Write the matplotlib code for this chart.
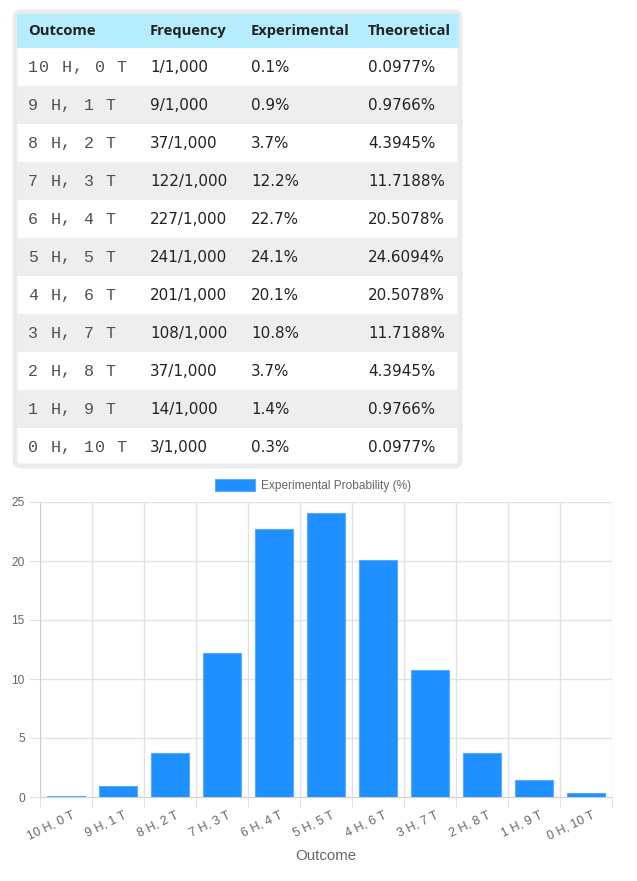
import matplotlib.pyplot as plt
from matplotlib.patches import FancyBboxPatch, Rectangle

# ── data ──────────────────────────────────────────────────────────────
outcomes = ["10 H, 0 T", "9 H, 1 T", "8 H, 2 T", "7 H, 3 T", "6 H, 4 T",
            "5 H, 5 T", "4 H, 6 T", "3 H, 7 T", "2 H, 8 T", "1 H, 9 T",
            "0 H, 10 T"]
frequencies = ["1/1,000", "9/1,000", "37/1,000", "122/1,000", "227/1,000",
               "241/1,000", "201/1,000", "108/1,000", "37/1,000", "14/1,000",
               "3/1,000"]
experimental = [0.1, 0.9, 3.7, 12.2, 22.7, 24.1, 20.1, 10.8, 3.7, 1.4, 0.3]
theoretical = ["0.0977%", "0.9766%", "4.3945%", "11.7188%", "20.5078%",
               "24.6094%", "20.5078%", "11.7188%", "4.3945%", "0.9766%",
               "0.0977%"]
headers = ["Outcome", "Frequency", "Experimental", "Theoretical"]

W, H = 637, 881
fig = plt.figure(figsize=(W / 100, H / 100), dpi=100)

# overlay in pixel coordinates for the table
ov = fig.add_axes([0, 0, 1, 1])
ov.set_xlim(0, W)
ov.set_ylim(H, 0)
ov.axis("off")

# outer container
ov.add_patch(FancyBboxPatch((15, 12), 445, 454,
                            boxstyle="round,pad=0,rounding_size=6",
                            facecolor="white", edgecolor="#ebebeb", lw=3.5))
# header
ov.add_patch(Rectangle((17, 14), 442, 34, facecolor="#b5edfc", lw=0))

col_x = [28, 150, 251, 368]
for x, h in zip(col_x, headers):
    ov.text(x, 31, h, fontsize=10.6, fontweight="bold", family="Open Sans",
            color="#222222", va="center", ha="left")

body = dict(fontsize=10.9, family="DejaVu Sans", color="#222222",
            va="center", ha="left")
row_h = 38
for i in range(len(outcomes)):
    top = 48 + i * row_h
    if i % 2 == 1:
        ov.add_patch(Rectangle((17, top), 442, row_h, facecolor="#eeeeee", lw=0))
    yc = top + row_h / 2
    # monospace outcome, drawn with a little letter spacing
    for k, ch in enumerate(outcomes[i]):
        ov.text(col_x[0] + k * 11.1, yc, ch, fontsize=12, family="Liberation Mono",
                color="#505050", va="center", ha="left")
    ov.text(col_x[1], yc, frequencies[i], **body)
    ov.text(col_x[2], yc, f"{experimental[i]}%", **body)
    ov.text(col_x[3], yc, theoretical[i], **body)

# ── bar chart ─────────────────────────────────────────────────────────
ax_l, ax_r, ax_t, ax_b = 40, 612, 502, 797
ax = fig.add_axes([ax_l / W, 1 - ax_b / H, (ax_r - ax_l) / W, (ax_b - ax_t) / H])
x = range(len(outcomes))
ax.bar(x, experimental, width=0.72, color="#1e90ff", edgecolor="#5aaaff",
       linewidth=0.8, zorder=3)
ax.set_xlim(-0.5, len(outcomes) - 0.5)
ax.set_ylim(0, 25)
ax.set_yticks([0, 5, 10, 15, 20, 25])

grid_c = "#e2e2e2"
for v in range(len(outcomes) + 1):
    ax.axvline(v - 0.5, color=grid_c, lw=1, zorder=1)
for v in [5, 10, 15, 20, 25]:
    ax.axhline(v, color=grid_c, lw=1, zorder=1)
for s in ["top", "right"]:
    ax.spines[s].set_visible(False)
ax.spines["left"].set_color("#d0d0d0")
ax.spines["bottom"].set_color("#d0d0d0")

ax.tick_params(axis="y", length=8, color=grid_c, labelsize=8.6,
               labelcolor="#666666", pad=3)
ax.set_xticks([v - 0.5 for v in range(len(outcomes) + 1)], [""] * 12)
ax.tick_params(axis="x", length=8, color=grid_c, direction="out")
for lab in ax.get_yticklabels():
    lab.set_family("Liberation Sans")

# rotated category labels
for i, lab in enumerate(outcomes):
    px = ax_l + (i + 0.5) * 52 + 5
    ov.text(px, 809, lab, rotation=26, rotation_mode="anchor", ha="right",
            va="top", fontsize=9, family="Liberation Sans", color="#666666")

ov.text((ax_l + ax_r) / 2, 856, "Outcome", ha="center", va="center",
        fontsize=10.8, family="Liberation Sans", color="#666666")

# legend
ov.add_patch(Rectangle((215, 479), 40, 12, facecolor="#1e90ff",
                       edgecolor="#5aaaff", lw=0.8))
ov.text(261, 485.5, "Experimental Probability (%)", ha="left", va="center",
        fontsize=8.6, family="Liberation Sans", color="#666666")

fig.savefig("out.png", dpi=100)
